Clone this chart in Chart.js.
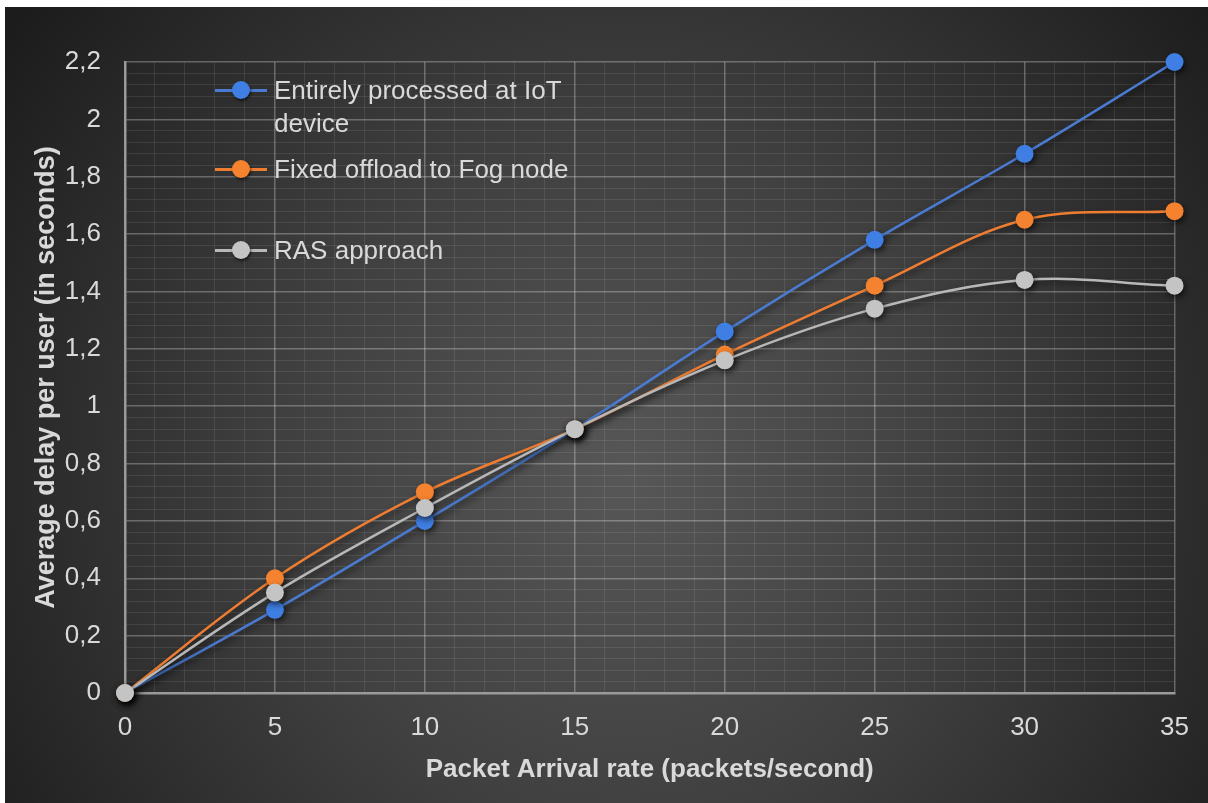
<!DOCTYPE html>
<html>
<head>
<meta charset="utf-8">
<script src="https://cdn.jsdelivr.net/npm/chart.js@4.4.1/dist/chart.umd.min.js"></script>
<style>
    html, body { margin: 0; padding: 0; background: #ffffff; }
    body { width: 1208px; height: 803px; position: relative; overflow: hidden; font-family: 'Liberation Sans', Arial, sans-serif; }
    #wrap { position: absolute; left: 5px; top: 7px; width: 1203px; height: 796px; }
    #legend { position: absolute; left: 0; top: 0; }
    .lg-item { position: absolute; left: 205px; }
    .lg-line { position: absolute; left: 5px; width: 52px; height: 3px; }
    .lg-dot { position: absolute; left: 22px; width: 18px; height: 18px; border-radius: 50%; box-shadow: 1px 2px 3px rgba(0,0,0,0.6); }
    .lg-text { position: absolute; left: 64px; width: 330px; color: #d9d9d9; font-size: 26px; line-height: 33px; white-space: nowrap; }
</style>
</head>
<body>
<div id="wrap">
    <canvas id="delayChart" width="1203" height="796"></canvas>
    <div id="legend"></div>
</div>
<script>
// Số liệu
const arrivalRates = [0, 5, 10, 15, 20, 25, 30, 35];
const iotDelay = [0, 0.29, 0.6, 0.92, 1.26, 1.58, 1.88, 2.2];
const fogDelay = [0, 0.4, 0.7, 0.92, 1.18, 1.42, 1.65, 1.68];
const rasDelay = [0, 0.35, 0.645, 0.92, 1.16, 1.34, 1.44, 1.42];
const seriesNames = ['Entirely processed at IoT\ndevice', 'Fixed offload to Fog node', 'RAS approach'];
const xMajorTicks = [0, 5, 10, 15, 20, 25, 30, 35];
const yMajorTicks = [0, 0.2, 0.4, 0.6, 0.8, 1, 1.2, 1.4, 1.6, 1.8, 2, 2.2];

const FONT = "'Liberation Sans', Arial, sans-serif";
const TEXT = '#d9d9d9';

const toPoints = vals => vals.map((v, i) => ({ x: arrivalRates[i], y: v }));
const near = (list, v) => list.some(t => Math.abs(t - v) < 1e-6);

// Nền tối dạng gradient + bóng cho đường/điểm
const bgPlugin = {
    id: 'darkBg',
    beforeDraw(chart) {
        const { ctx, width, height } = chart;
        const g = ctx.createRadialGradient(620, 470, 0, 620, 470, 760);
        g.addColorStop(0, '#575757');
        g.addColorStop(0.45, '#404040');
        g.addColorStop(1, '#1c1c1c');
        ctx.save();
        ctx.fillStyle = g;
        ctx.fillRect(0, 0, width, height);
        ctx.restore();
    },
    beforeDatasetsDraw(chart) {
        const ctx = chart.ctx;
        ctx.save();
        ctx.shadowColor = 'rgba(0,0,0,0.6)';
        ctx.shadowBlur = 6;
        ctx.shadowOffsetX = 2;
        ctx.shadowOffsetY = 3;
    },
    afterDatasetsDraw(chart) {
        chart.ctx.restore();
    }
};

const datasets = [
    { label: seriesNames[0], data: toPoints(iotDelay), borderColor: '#4a7bd0', pointBackgroundColor: '#3f7ee2', order: 2 },
    { label: seriesNames[1], data: toPoints(fogDelay), borderColor: '#ee7d31', pointBackgroundColor: '#f4822e', order: 1 },
    { label: seriesNames[2], data: toPoints(rasDelay), borderColor: '#b8b8b8', pointBackgroundColor: '#c4c4c4', order: 0 }
].map(d => Object.assign(d, {
    borderWidth: 2.5,
    pointRadius: 9,
    pointBorderWidth: 0,
    pointBorderColor: d.pointBackgroundColor,
    tension: 0.35,
    clip: false,
    fill: false
}));

const chart = new Chart(document.getElementById('delayChart'), {
    type: 'line',
    data: { datasets },
    options: {
        responsive: false,
        animation: false,
        layout: { padding: { top: 55, right: 30, left: 0, bottom: 0 } },
        plugins: { legend: { display: false }, tooltip: { enabled: false } },
        scales: {
            x: {
                type: 'linear',
                min: 0, max: 35,
                afterFit: s => { s.height = 110; },
                ticks: {
                    stepSize: 1,
                    autoSkip: false,
                    maxRotation: 0,
                    padding: 19,
                    color: TEXT,
                    font: { family: FONT, size: 26 },
                    callback: v => near(xMajorTicks, v) ? String(v) : ''
                },
                grid: {
                    drawTicks: false,
                    color: c => near(xMajorTicks, c.tick.value) ? 'rgba(255,255,255,0.28)' : 'rgba(255,255,255,0.09)',
                    lineWidth: c => near(xMajorTicks, c.tick.value) ? 1.5 : 1
                },
                border: { color: '#9a9a9a', width: 2.5 },
                title: {
                    display: true,
                    text: 'Packet Arrival rate (packets/second)',
                    color: TEXT,
                    font: { family: FONT, size: 26, weight: 'bold' },
                    padding: { top: 0, bottom: 18 }
                }
            },
            y: {
                min: 0, max: 2.2,
                afterFit: s => { s.width = 120; },
                ticks: {
                    stepSize: 0.04,
                    autoSkip: false,
                    padding: 24,
                    color: TEXT,
                    font: { family: FONT, size: 26 },
                    callback: v => near(yMajorTicks, v) ? String(Math.round(v * 10) / 10).replace('.', ',') : ''
                },
                grid: {
                    drawTicks: false,
                    color: c => near(yMajorTicks, c.tick.value) ? 'rgba(255,255,255,0.28)' : 'rgba(255,255,255,0.09)',
                    lineWidth: c => near(yMajorTicks, c.tick.value) ? 1.5 : 1
                },
                border: { color: '#9a9a9a', width: 2.5 },
                title: {
                    display: true,
                    text: 'Average delay per user (in seconds)',
                    color: TEXT,
                    font: { family: FONT, size: 27, weight: 'bold' },
                    padding: { top: 25, bottom: 0 }
                }
            }
        }
    },
    plugins: [bgPlugin]
});

// Chú giải nằm trong vùng vẽ, góc trên bên trái
const legendTops = [67, 146, 227];
document.getElementById('legend').innerHTML = chart.data.datasets.map((ds, i) => `
    <div class="lg-item" style="top:${legendTops[i]}px">
        <div class="lg-line" style="top:${15}px; background:${ds.borderColor}"></div>
        <div class="lg-dot" style="top:${7}px; background:${ds.pointBackgroundColor}"></div>
        <div class="lg-text">${ds.label.replace('\n', '<br>')}</div>
    </div>
`).join('');
</script>
</body>
</html>
